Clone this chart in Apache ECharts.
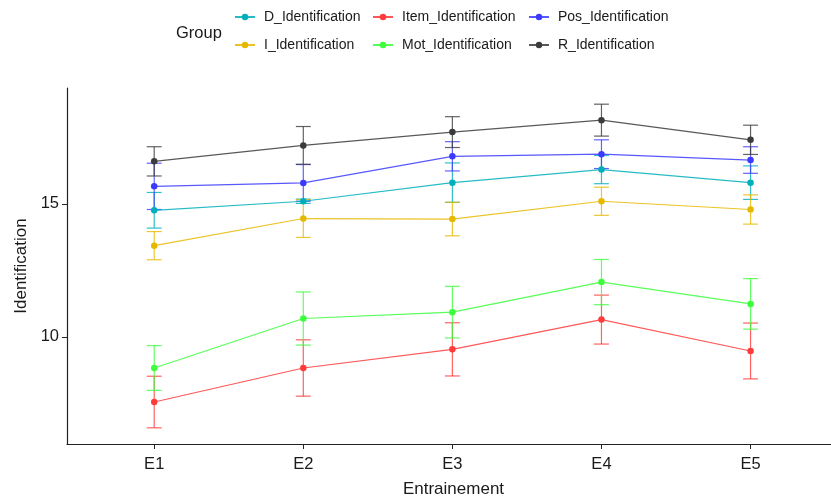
<!DOCTYPE html>
<html>
<head>
<meta charset="utf-8">
<script src="https://cdn.jsdelivr.net/npm/echarts@6/dist/echarts.min.js"></script>
<style>
  html, body { margin: 0; padding: 0; background: #fff; }
  #chart { width: 831px; height: 499px; }
</style>
</head>
<body>
<div id="chart"></div>
<script>
var sessions = ['E1', 'E2', 'E3', 'E4', 'E5'];
var yTicks = [10, 15];

// mean per session and half-width of the error bars
var D_mean    = [14.76, 15.10, 15.80, 16.29, 15.80];
var D_err     = [0.67, 0.08, 0.74, 0.53, 0.63];
var I_mean    = [13.43, 14.45, 14.43, 15.10, 14.79];
var I_err     = [0.53, 0.71, 0.63, 0.53, 0.55];
var Item_mean = [7.55, 8.83, 9.53, 10.65, 9.47];
var Item_err  = [0.97, 1.06, 1.00, 0.92, 1.05];
var Mot_mean  = [8.83, 10.69, 10.93, 12.06, 11.24];
var Mot_err   = [0.84, 1.00, 0.97, 0.85, 0.95];
var Pos_mean  = [15.66, 15.79, 16.79, 16.87, 16.65];
var Pos_err   = [0.87, 0.69, 0.55, 0.54, 0.50];
var R_mean    = [16.60, 17.20, 17.70, 18.15, 17.41];
var R_err     = [0.55, 0.71, 0.58, 0.60, 0.55];

var groups = [
    {name: 'D_Identification',    mean: D_mean,    err: D_err,    color: '#00AFBB'},
    {name: 'I_Identification',    mean: I_mean,    err: I_err,    color: '#E7B800'},
    {name: 'Item_Identification', mean: Item_mean, err: Item_err, color: '#FF3B3B'},
    {name: 'Mot_Identification',  mean: Mot_mean,  err: Mot_err,  color: '#3BFF3B'},
    {name: 'Pos_Identification',  mean: Pos_mean,  err: Pos_err,  color: '#3B3BFF'},
    {name: 'R_Identification',    mean: R_mean,    err: R_err,    color: '#3B3B3B'}
];

// ggplot-like 5% expansion of the y range
var lo = Infinity, hi = -Infinity;
groups.forEach(function (g) {
    g.mean.forEach(function (m, i) {
        lo = Math.min(lo, m - g.err[i]);
        hi = Math.max(hi, m + g.err[i]);
    });
});
var pad = (hi - lo) * 0.05;

var font = 'Liberation Sans, Arial, sans-serif';

function errorBar(color) {
    return function (params, api) {
        var x = api.value(0);
        var top = api.coord([x, api.value(2)]);
        var bot = api.coord([x, api.value(1)]);
        var l = api.coord([x - 0.05, 0])[0];
        var r = api.coord([x + 0.05, 0])[0];
        var st = {stroke: color, lineWidth: 1.2, opacity: 0.8};
        return {
            type: 'group',
            children: [
                {type: 'line', shape: {x1: top[0], y1: top[1], x2: bot[0], y2: bot[1]}, style: st},
                {type: 'line', shape: {x1: l, y1: top[1], x2: r, y2: top[1]}, style: st},
                {type: 'line', shape: {x1: l, y1: bot[1], x2: r, y2: bot[1]}, style: st}
            ]
        };
    };
}

var series = [];
groups.forEach(function (g) {
    series.push({
        name: g.name + '_err',
        type: 'custom',
        renderItem: errorBar(g.color),
        data: g.mean.map(function (m, i) { return [i + 1, m - g.err[i], m + g.err[i]]; }),
        z: 1,
        silent: true
    });
});
groups.forEach(function (g) {
    series.push({
        name: g.name,
        type: 'line',
        data: g.mean.map(function (m, i) { return [i + 1, m]; }),
        symbol: 'circle',
        symbolSize: 6.5,
        color: g.color,
        lineStyle: {width: 1.2, opacity: 0.85},
        z: 2
    });
});

function legendCol(names, left) {
    return {
        orient: 'vertical',
        left: left,
        top: 5,
        itemWidth: 20,
        itemHeight: 8,
        itemGap: 14,
        data: names,
        textStyle: {fontFamily: font, fontSize: 14, color: '#1a1a1a', padding: [0, 0, 0, 4]}
    };
}

var chart = echarts.init(document.getElementById('chart'));
chart.setOption({
    animation: false,
    backgroundColor: '#fff',
    title: {
        text: 'Group',
        left: 171,
        top: 20,
        textStyle: {fontFamily: font, fontSize: 16.5, fontWeight: 'normal', color: '#1a1a1a'}
    },
    legend: [
        legendCol([groups[0].name, groups[1].name], 229),
        legendCol([groups[2].name, groups[3].name], 367),
        legendCol([groups[4].name, groups[5].name], 523)
    ],
    grid: {left: 67, top: 88, width: 773, height: 356, outerBoundsMode: 'none', containLabel: false},
    xAxis: {
        type: 'value',
        min: 0.415,
        max: 5.6,
        name: 'Entrainement',
        nameLocation: 'middle',
        nameGap: 37,
        nameTextStyle: {fontFamily: font, fontSize: 17, color: '#1a1a1a'},
        axisLine: {lineStyle: {color: '#222', width: 1.2}},
        axisTick: {customValues: [1, 2, 3, 4, 5], length: 5, lineStyle: {color: '#222'}},
        axisLabel: {
            customValues: [1, 2, 3, 4, 5],
            formatter: function (v) { return sessions[Math.round(v) - 1]; },
            fontFamily: font, fontSize: 16.5, color: '#1a1a1a', margin: 12
        },
        splitLine: {show: false}
    },
    yAxis: {
        type: 'value',
        min: lo - pad,
        max: hi + pad,
        name: 'Identification',
        nameLocation: 'middle',
        nameGap: 33,
        nameTextStyle: {fontFamily: font, fontSize: 17, color: '#1a1a1a'},
        axisLine: {show: true, lineStyle: {color: '#222', width: 1.2}},
        axisTick: {show: true, customValues: yTicks, length: 5, lineStyle: {color: '#222'}},
        axisLabel: {customValues: yTicks, fontFamily: font, fontSize: 16.5, color: '#1a1a1a', margin: 8},
        splitLine: {show: false}
    },
    series: series
});
</script>
</body>
</html>
